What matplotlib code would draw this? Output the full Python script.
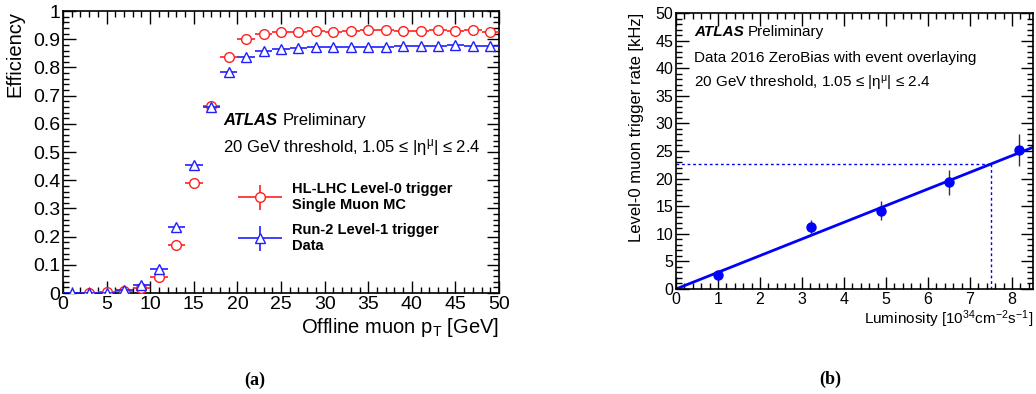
import numpy as np
import matplotlib
matplotlib.use("Agg")
from matplotlib import pyplot as plt
from matplotlib.ticker import MultipleLocator, FuncFormatter
from matplotlib.legend_handler import HandlerErrorbar

plt.rcParams["font.family"] = ["Liberation Sans", "DejaVu Sans"]
plt.rcParams["mathtext.fontset"] = "custom"
plt.rcParams["mathtext.rm"] = "Liberation Sans"
plt.rcParams["mathtext.it"] = "Liberation Sans"
plt.rcParams["mathtext.bf"] = "Liberation Sans:bold"

# (a) efficiency vs offline muon pT, 2 GeV bins
pt_l0 = np.arange(3, 50, 2)
eff_l0 = [0.0, 0.002, 0.006, 0.017, 0.057, 0.171, 0.390, 0.664, 0.836, 0.901,
          0.920, 0.924, 0.927, 0.930, 0.926, 0.928, 0.932, 0.934, 0.930, 0.929,
          0.933, 0.930, 0.932, 0.926]
pt_l1 = np.arange(1, 50, 2)
eff_l1 = [0.0, 0.0, 0.0, 0.009, 0.027, 0.085, 0.233, 0.455, 0.661, 0.784,
          0.838, 0.858, 0.865, 0.870, 0.871, 0.872, 0.872, 0.874, 0.874, 0.875,
          0.876, 0.877, 0.878, 0.877, 0.877]
bin_half = 1.0

# (b) rate vs luminosity
lumi = [1.01, 3.22, 4.89, 6.50, 8.17]
rate = [2.55, 11.2, 14.2, 19.3, 25.2]
rate_err = [0.4, 1.36, 1.75, 2.3, 2.85]
fit_slope = 3.02
lumi_target = 7.5
rate_target = 22.7

thr_text = r"20 GeV threshold, 1.05 ≤ |η$^{\mu}$| ≤ 2.4"

fig = plt.figure(figsize=(10.36, 3.94), dpi=100)
ax1 = fig.add_axes([0.0608, 0.2563, 0.4209, 0.7157])
ax2 = fig.add_axes([0.6525, 0.2665, 0.3446, 0.7005])


def root_style(ax, tick_size):
    ax.tick_params(which="both", direction="in", top=True, right=True,
                   labelsize=tick_size, width=1, pad=2)
    ax.tick_params(which="major", length=9)
    ax.tick_params(which="minor", length=4.5)
    for s in ax.spines.values():
        s.set_linewidth(1.2)


def trim(x, pos):
    return ("%g" % round(x, 6))


# ---- panel (a)
e1 = ax1.errorbar(pt_l0, eff_l0, xerr=bin_half, yerr=np.zeros(len(pt_l0)),
                  fmt="o", color="#ff2020", mfc="white", mec="#ff2020",
                  ms=7, mew=1.0, elinewidth=1.2, capsize=0, zorder=3,
                  label="HL-LHC Level-0 trigger\nSingle Muon MC")
e2 = ax1.errorbar(pt_l1, eff_l1, xerr=bin_half, yerr=np.zeros(len(pt_l1)),
                  fmt="^", color="#2020ff", mfc="white", mec="#2020ff",
                  ms=7, mew=1.0, elinewidth=1.2, capsize=0, zorder=4,
                  label="Run-2 Level-1 trigger\nData")
ax1.set_xlim(0, 50)
ax1.set_ylim(0, 1)
ax1.xaxis.set_major_locator(MultipleLocator(5))
ax1.xaxis.set_minor_locator(MultipleLocator(1))
ax1.yaxis.set_major_locator(MultipleLocator(0.1))
ax1.yaxis.set_minor_locator(MultipleLocator(0.02))
ax1.yaxis.set_major_formatter(FuncFormatter(trim))
root_style(ax1, 14)
ax1.set_ylabel("Efficiency", fontsize=14.5, loc="top", labelpad=6)
ax1.set_xlabel(r"Offline muon p$_{\mathrm{T}}$ [GeV]", fontsize=14.5, loc="right", labelpad=2)

ax1.text(0.367, 0.595, "ATLAS", transform=ax1.transAxes, fontsize=12,
         fontweight="bold", style="italic")
ax1.text(0.503, 0.595, "Preliminary", transform=ax1.transAxes, fontsize=12)
ax1.text(0.367, 0.5, thr_text, transform=ax1.transAxes, fontsize=12)
hmap = {type(e1): HandlerErrorbar(xerr_size=1.5, yerr_size=0.85)}
leg = ax1.legend(handles=[e1, e2], loc="upper left", bbox_to_anchor=(0.401, 0.395),
                 frameon=False, borderpad=0, borderaxespad=0, handlelength=3.0,
                 handletextpad=0.7, labelspacing=0.75, handler_map=hmap,
                 prop={"weight": "bold", "size": 10.5})

# ---- panel (b)
xs = np.array([0, 8.5])
ax2.plot(xs, fit_slope * xs, color="#0000ff", lw=2, zorder=2)
ax2.errorbar(lumi, rate, yerr=rate_err, fmt="o", color="#0000ff", ms=6.5,
             ecolor="#333333", elinewidth=1, capsize=0, zorder=3)
ax2.plot([0, lumi_target], [rate_target, rate_target], color="#0000ff", lw=1, ls=(0, (2, 2)))
ax2.plot([lumi_target, lumi_target], [0, rate_target], color="#0000ff", lw=1, ls=(0, (2, 2)))
ax2.set_xlim(0, 8.5)
ax2.set_ylim(0, 50)
ax2.xaxis.set_major_locator(MultipleLocator(1))
ax2.xaxis.set_minor_locator(MultipleLocator(0.2))
ax2.yaxis.set_major_locator(MultipleLocator(5))
ax2.yaxis.set_minor_locator(MultipleLocator(1))
root_style(ax2, 11.5)
ax2.set_ylabel("Level-0 muon trigger rate [kHz]", fontsize=12, loc="top", labelpad=8)
ax2.set_xlabel(r"Luminosity [10$^{34}$cm$^{-2}$s$^{-1}$]", fontsize=11, loc="right", labelpad=1)

ax2.text(0.05, 0.915, "ATLAS", transform=ax2.transAxes, fontsize=11,
         fontweight="bold", style="italic")
ax2.text(0.2, 0.915, "Preliminary", transform=ax2.transAxes, fontsize=11)
ax2.text(0.05, 0.823, "Data 2016 ZeroBias with event overlaying",
         transform=ax2.transAxes, fontsize=11)
ax2.text(0.05, 0.73, thr_text, transform=ax2.transAxes, fontsize=11)

fig.text(255 / 1036, 1 - 380 / 394, "(a)", ha="center", va="center",
         fontsize=13, fontweight="bold", family="Liberation Serif")
fig.text(830 / 1036, 1 - 379 / 394, "(b)", ha="center", va="center",
         fontsize=13, fontweight="bold", family="Liberation Serif")

fig.savefig("out.png", dpi=100)
